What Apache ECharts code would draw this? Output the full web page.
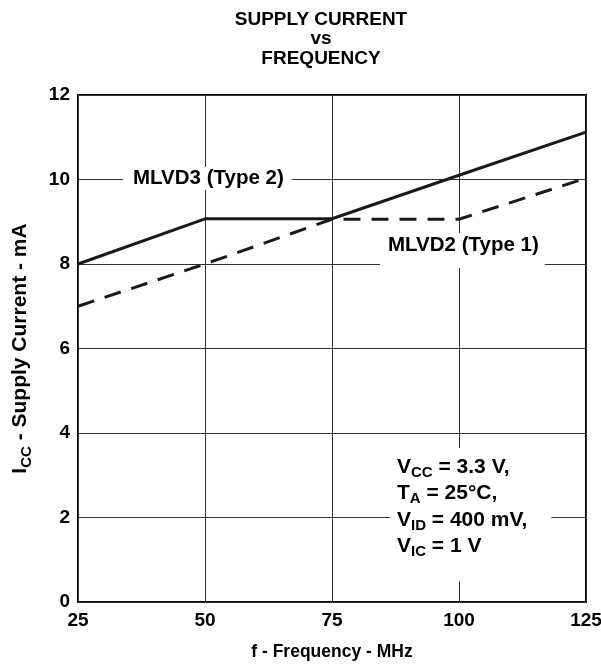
<!DOCTYPE html>
<html>
<head>
<meta charset="utf-8">
<script src="https://cdn.jsdelivr.net/npm/echarts@6/dist/echarts.min.js"></script>
<style>html,body{margin:0;padding:0;background:#fff}#c{width:601px;height:667px}</style>
</head>
<body>
<div id="c"></div>
<script>
const freq = [25, 50, 75, 100, 125];
const mlvd3 = [8.0, 9.07, 9.07, 10.1, 11.12];
const mlvd2 = [7.0, 8.0, 9.06, 9.06, 10.03];
const xTicks = [25, 50, 75, 100, 125];
const yTicks = [0, 2, 4, 6, 8, 10, 12];
const titleLines = ['SUPPLY CURRENT', 'vs', 'FREQUENCY'];
const label3 = 'MLVD3 (Type 2)';
const label2 = 'MLVD2 (Type 1)';

const FONT = '"Liberation Sans", Arial, sans-serif';
const chart = echarts.init(document.getElementById('c'), null, {renderer: 'canvas'});

const subRich = {
  m: {fontFamily: FONT, fontWeight: 'bold', fontSize: 21, color: '#000', lineHeight: 26.3, verticalAlign: 'middle'},
  s: {fontFamily: FONT, fontWeight: 'bold', fontSize: 15, color: '#000', lineHeight: 14, verticalAlign: 'bottom'}
};

chart.setOption({
  animation: false,
  backgroundColor: '#fff',
  title: {
    text: titleLines.join('\n'),
    left: 316, top: 5, textAlign: 'center',
    textStyle: {fontFamily: FONT, fontWeight: 'bold', fontSize: 19, lineHeight: 19.5, color: '#000'}
  },
  grid: {left: 78, right: 15, top: 95, bottom: 65, show: true, borderColor: '#000', borderWidth: 2,
    backgroundColor: 'transparent', containLabel: false, outerBoundsMode: 'none'},
  xAxis: {
    type: 'value', min: xTicks[0], max: xTicks[xTicks.length - 1], interval: 25,
    name: 'f - Frequency - MHz', nameLocation: 'middle', nameGap: 41,
    nameTextStyle: {fontFamily: FONT, fontWeight: 'bold', fontSize: 17.5, color: '#000'},
    axisLine: {show: false}, axisTick: {show: false},
    axisLabel: {fontFamily: FONT, fontWeight: 'bold', fontSize: 19, color: '#000', margin: 9},
    splitLine: {show: true, lineStyle: {color: '#333', width: 1}}
  },
  yAxis: {
    type: 'value', min: yTicks[0], max: yTicks[yTicks.length - 1], interval: 2,
    name: '{m|I}{s|CC}{m| - Supply Current - mA}', nameLocation: 'middle', nameGap: 44,
    nameTextStyle: {rich: {
      m: {fontFamily: FONT, fontWeight: 'bold', fontSize: 21, color: '#000', lineHeight: 28, verticalAlign: 'middle'},
      s: {fontFamily: FONT, fontWeight: 'bold', fontSize: 15, color: '#000', lineHeight: 14, verticalAlign: 'bottom'}
    }},
    axisLine: {show: false}, axisTick: {show: false},
    axisLabel: {fontFamily: FONT, fontWeight: 'bold', fontSize: 19, color: '#000', margin: 8},
    splitLine: {show: true, lineStyle: {color: '#333', width: 1}}
  },
  series: [
    {
      name: label3, type: 'line', showSymbol: false, symbol: 'none',
      data: freq.map((f, i) => [f, mlvd3[i]]),
      lineStyle: {color: '#1a1a1a', width: 3, type: 'solid'}, z: 5
    },
    {
      name: label2, type: 'line', showSymbol: false, symbol: 'none',
      data: freq.map((f, i) => [f, mlvd2[i]]),
      lineStyle: {color: '#1a1a1a', width: 3, type: [17, 11]}, z: 4
    }
  ],
  graphic: [
    {
      type: 'text', left: 123, top: 167, z: 10,
      style: {text: label3, fontFamily: FONT, fontWeight: 'bold', fontSize: 20.5, fill: '#000',
        backgroundColor: '#fff', padding: [1, 8, 1, 10]}
    },
    {
      type: 'text', left: 380, top: 233, z: 10,
      style: {text: label2, fontFamily: FONT, fontWeight: 'bold', fontSize: 20.5, fill: '#000',
        backgroundColor: '#fff', padding: [2, 6, 12, 8]}
    },
    {
      type: 'text', left: 390, top: 448, z: 10,
      style: {
        text: '{m|V}{s|CC}{m| = 3.3 V,}\n{m|T}{s|A}{m| = 25°C,}\n{m|V}{s|ID}{m| = 400 mV,}\n{m|V}{s|IC}{m| = 1 V}',
        rich: subRich, backgroundColor: '#fff', padding: [6, 24, 22, 7]
      }
    }
  ]
});
</script>
</body>
</html>
